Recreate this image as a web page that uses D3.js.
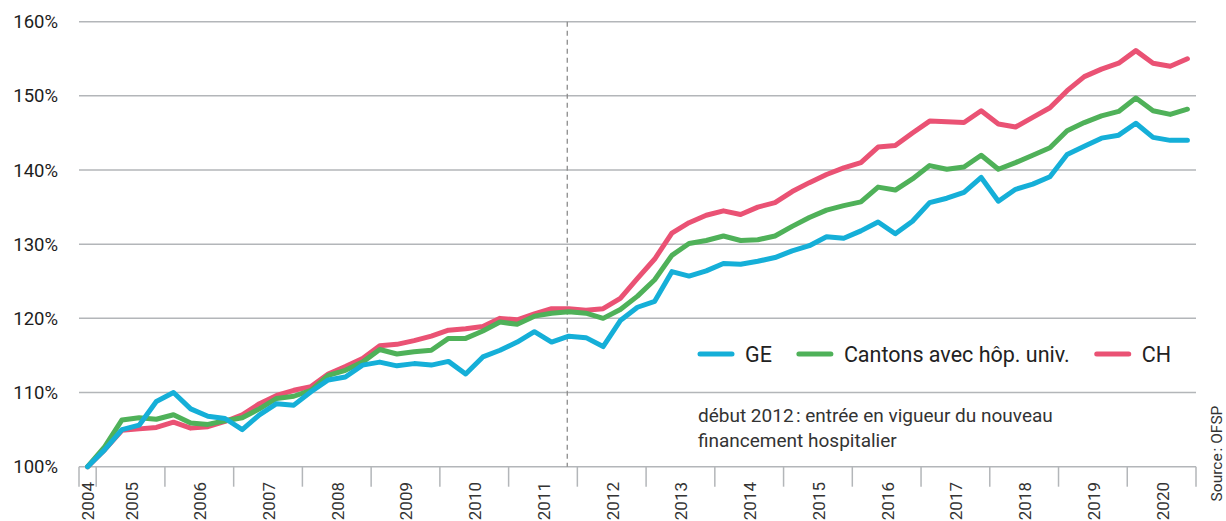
<!DOCTYPE html>
<html lang="fr">
<head>
<meta charset="utf-8">
<script src="https://cdn.jsdelivr.net/npm/d3@7"></script>
<style>
  html, body { margin: 0; padding: 0; background: #fff; }
  svg { display: block; font-family: Roboto, "Noto Sans", sans-serif; }
</style>
</head>
<body>
<svg id="chart" width="1226" height="521"></svg>
<script>
// Quarterly periods (T = trimestre)
const periods = [
  "2004 T4",
  "2005 T1","2005 T2","2005 T3","2005 T4",
  "2006 T1","2006 T2","2006 T3","2006 T4",
  "2007 T1","2007 T2","2007 T3","2007 T4",
  "2008 T1","2008 T2","2008 T3","2008 T4",
  "2009 T1","2009 T2","2009 T3","2009 T4",
  "2010 T1","2010 T2","2010 T3","2010 T4",
  "2011 T1","2011 T2","2011 T3","2011 T4",
  "2012 T1","2012 T2","2012 T3","2012 T4",
  "2013 T1","2013 T2","2013 T3","2013 T4",
  "2014 T1","2014 T2","2014 T3","2014 T4",
  "2015 T1","2015 T2","2015 T3","2015 T4",
  "2016 T1","2016 T2","2016 T3","2016 T4",
  "2017 T1","2017 T2","2017 T3","2017 T4",
  "2018 T1","2018 T2","2018 T3","2018 T4",
  "2019 T1","2019 T2","2019 T3","2019 T4",
  "2020 T1","2020 T2","2020 T3","2020 T4"
];

const yearLabels = ["2004","2005","2006","2007","2008","2009","2010","2011","2012",
                    "2013","2014","2015","2016","2017","2018","2019","2020"];

// Index (2004 T4 = 100 %)
const valuesGE = [
  100.0,
  102.3, 105.0, 105.6, 108.8,
  110.0, 107.8, 106.8, 106.5,
  105.0, 107.0, 108.5, 108.3,
  110.1, 111.7, 112.1, 113.7,
  114.1, 113.6, 113.9, 113.7,
  114.2, 112.5, 114.8, 115.7,
  116.8, 118.2, 116.8, 117.6,
  117.4, 116.2, 119.7, 121.5,
  122.3, 126.3, 125.7, 126.4,
  127.4, 127.3, 127.7, 128.2,
  129.1, 129.8, 131.0, 130.8,
  131.8, 133.0, 131.4, 133.1,
  135.6, 136.2, 137.0, 139.0,
  135.8, 137.4, 138.1, 139.1,
  142.1, 143.2, 144.3, 144.7,
  146.3, 144.4, 144.0, 144.0
];

const valuesCantons = [
  100.0,
  102.7, 106.3, 106.6, 106.4,
  107.0, 105.9, 105.7, 106.2,
  106.6, 107.8, 109.2, 109.5,
  110.3, 112.3, 113.0, 114.1,
  115.8, 115.2, 115.5, 115.7,
  117.3, 117.3, 118.3, 119.5,
  119.2, 120.3, 120.7, 120.9,
  120.7, 120.0, 121.2, 123.0,
  125.2, 128.5, 130.1, 130.5,
  131.1, 130.5, 130.6, 131.1,
  132.4, 133.6, 134.6, 135.2,
  135.7, 137.7, 137.3, 138.8,
  140.6, 140.1, 140.4, 142.0,
  140.1, 141.0, 142.0, 143.0,
  145.3, 146.4, 147.3, 147.9,
  149.7, 148.0, 147.5, 148.2
];

const valuesCH = [
  100.0,
  102.3, 104.9, 105.1, 105.3,
  106.0, 105.2, 105.4, 106.1,
  107.0, 108.5, 109.6, 110.3,
  110.8, 112.5, 113.5, 114.6,
  116.3, 116.5, 117.0, 117.6,
  118.4, 118.6, 118.9, 120.0,
  119.8, 120.6, 121.3, 121.3,
  121.1, 121.3, 122.7, 125.4,
  128.0, 131.5, 132.9, 133.9,
  134.5, 134.0, 135.0, 135.6,
  137.1, 138.3, 139.4, 140.3,
  141.0, 143.1, 143.3, 145.0,
  146.6, 146.5, 146.4, 148.0,
  146.2, 145.8, 147.1, 148.4,
  150.7, 152.6, 153.6, 154.4,
  156.1, 154.4, 154.0, 155.0
];

const yTicks = [100, 110, 120, 130, 140, 150, 160];
const reformPeriod = "2011 T4";
const annotationLines = ["début 2012\u202F: entrée en vigueur du nouveau", "financement hospitalier"];
const sourceText = "Source\u202F: OFSP";

// Drawing order: CH at the back, GE in front
const series = [
  { name: "GE", values: valuesGE, color: "#15afd8" },
  { name: "Cantons avec hôp. univ.", values: valuesCantons, color: "#4fb159" },
  { name: "CH", values: valuesCH, color: "#ea5274" }
];

const svg = d3.select("#chart");
const plotLeft = 79, plotRight = 1196, plotTop = 21.7, plotBottom = 466.7;

const x = d3.scaleBand().domain(periods).range([plotLeft, plotRight]).padding(0);
const y = d3.scaleLinear().domain([100, 160]).range([plotBottom, plotTop]);
const cx = p => x(p) + x.bandwidth() / 2;

const gridColor = "#b3b6b9";

// Horizontal grid lines (100 % doubles as the baseline)
svg.append("g").selectAll("line").data(yTicks).join("line")
  .attr("x1", plotLeft).attr("x2", plotRight)
  .attr("y1", d => y(d)).attr("y2", d => y(d))
  .attr("stroke", gridColor).attr("stroke-width", 1.5);

// Y tick labels
svg.append("g").selectAll("text").data(yTicks).join("text")
  .attr("x", 58).attr("y", d => y(d)).attr("dy", "0.35em")
  .attr("text-anchor", "end")
  .attr("font-size", 18.5).attr("fill", "#1d1d1d")
  .text(d => d + "%");

// Year separators on the time axis
const yearStarts = periods.filter(p => p.endsWith("T1")).map(p => x(p));
const tickXs = [plotLeft, ...yearStarts, plotRight];
svg.append("g").selectAll("line").data(tickXs).join("line")
  .attr("x1", d => d).attr("x2", d => d)
  .attr("y1", plotBottom).attr("y2", plotBottom + 20)
  .attr("stroke", gridColor).attr("stroke-width", 1.5);

// Year labels, centred on each year's quarters
const yearGroups = yearLabels.map(yr => {
  const ps = periods.filter(p => p.startsWith(yr));
  const x0 = x(ps[0]);
  const x1 = x(ps[ps.length - 1]) + x.bandwidth();
  return { yr, mid: (x0 + x1) / 2 };
});
svg.append("g").selectAll("text").data(yearGroups).join("text")
  .attr("transform", d => `translate(${d.mid + (d.yr === "2004" ? 0 : 1)},482) rotate(-90)`)
  .attr("dy", "0.35em")
  .attr("text-anchor", "end")
  .attr("font-size", 17).attr("fill", "#333")
  .text(d => d.yr);

// Reform marker
svg.append("line")
  .attr("x1", cx(reformPeriod) - 1.5).attr("x2", cx(reformPeriod) - 1.5)
  .attr("y1", plotTop).attr("y2", plotBottom)
  .attr("stroke", "#8c8c8c").attr("stroke-width", 1.3)
  .attr("stroke-dasharray", "5,4");

// Series lines
const line = d3.line()
  .x((d, i) => cx(periods[i]))
  .y(d => y(d));

svg.append("g").selectAll("path").data(series.slice().reverse()).join("path")
  .attr("d", d => line(d.values))
  .attr("fill", "none")
  .attr("stroke", d => d.color)
  .attr("stroke-width", 5)
  .attr("stroke-linejoin", "round")
  .attr("stroke-linecap", "round");

// Legend
const legend = svg.append("g").attr("transform", "translate(700,354)");
let lx = 0;
series.forEach(s => {
  legend.append("line")
    .attr("x1", lx).attr("x2", lx + 32).attr("y1", 0).attr("y2", 0)
    .attr("stroke", s.color).attr("stroke-width", 5).attr("stroke-linecap", "round");
  const t = legend.append("text")
    .attr("x", lx + 45).attr("y", 0).attr("dy", "0.35em")
    .attr("font-size", 21.5).attr("fill", "#222")
    .text(s.name);
  lx += 45 + t.node().getComputedTextLength() + 27;
});

// Annotation
svg.append("g").selectAll("text").data(annotationLines).join("text")
  .attr("x", 698).attr("y", (d, i) => 421.7 + i * 25.6)
  .attr("font-size", 19).attr("fill", "#333")
  .text(d => d);

// Source
svg.append("text")
  .attr("transform", "translate(1217,453.5) rotate(-90)")
  .attr("dy", "0.35em")
  .attr("text-anchor", "middle")
  .attr("font-size", 15.5).attr("fill", "#333")
  .text(sourceText);
</script>
</body>
</html>
